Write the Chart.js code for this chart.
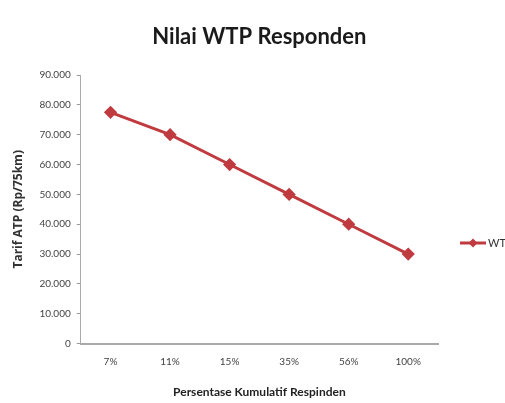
<!DOCTYPE html>
<html>
<head>
<meta charset="utf-8">
<script src="https://cdn.jsdelivr.net/npm/chart.js@4"></script>
<style>
  html, body { margin: 0; padding: 0; background: #fff; overflow: hidden; }
  #wrap { width: 505px; height: 403px; position: relative; }
</style>
</head>
<body>
<div id="wrap"><canvas id="chartWtp"></canvas></div>
<script>
const kategori = ['7%', '11%', '15%', '35%', '56%', '100%']
const nilaiWtp = [77500, 70000, 60000, 50000, 40000, 30000]
const namaSeri = 'WTP'
const judul = 'Nilai WTP Responden'
const merah = '#bf3b40'

// title centred over the plot, legend running off the right edge like the original
const hiasanWtp = {
    id: 'hiasanWtp',
    afterDraw(chart) {
        const ctx = chart.ctx
        const area = chart.chartArea
        ctx.save()
        ctx.fillStyle = '#1a1a1a'
        ctx.font = 'bold 22px Lato, sans-serif'
        ctx.textAlign = 'center'
        ctx.textBaseline = 'middle'
        ctx.fillText(judul, (area.left + area.right) / 2, 37)

        const y = 243
        const x0 = 460
        ctx.strokeStyle = merah
        ctx.lineWidth = 3
        ctx.beginPath()
        ctx.moveTo(x0, y)
        ctx.lineTo(x0 + 26, y)
        ctx.stroke()
        ctx.fillStyle = merah
        ctx.beginPath()
        ctx.moveTo(x0 + 13, y - 4.5)
        ctx.lineTo(x0 + 17.5, y)
        ctx.lineTo(x0 + 13, y + 4.5)
        ctx.lineTo(x0 + 8.5, y)
        ctx.closePath()
        ctx.fill()
        ctx.fillStyle = '#333'
        ctx.font = '11px Lato, sans-serif'
        ctx.textAlign = 'left'
        ctx.fillText(namaSeri, x0 + 28, y)
        ctx.restore()
    }
}

var ctxWtp = document.getElementById('chartWtp').getContext('2d');
var chartWtp = new Chart(ctxWtp, {
    type: 'line',
    data: {
        labels: kategori,
        datasets: [{
            label: namaSeri,
            data: nilaiWtp,
            borderColor: merah,
            backgroundColor: merah,
            borderWidth: 3,
            pointStyle: 'rectRot',
            pointRadius: 4.5,
            pointHoverRadius: 4.5,
            tension: 0
        }]
    },
    options: {
        responsive: true,
        maintainAspectRatio: false,
        animation: false,
        layout: { padding: { left: 11, right: 67, top: 75, bottom: 4 } },
        plugins: {
            legend: { display: false },
            tooltip: { enabled: false },
            title: { display: false }
        },
        scales: {
            x: {
                offset: true,
                grid: { display: false, drawTicks: false },
                border: { color: '#aaa', width: 2 },
                ticks: { color: '#444', font: { family: 'Lato', size: 10 }, padding: 12, maxRotation: 0 },
                title: {
                    display: true,
                    text: 'Persentase Kumulatif Respinden',
                    color: '#222',
                    font: { family: 'Lato', size: 12, weight: 'bold' },
                    padding: { top: 5, bottom: 0 }
                }
            },
            y: {
                min: 0,
                max: 90000,
                grid: { display: true, drawOnChartArea: false, drawTicks: true, tickLength: 4, color: '#999' },
                border: { color: '#aaa', width: 1 },
                ticks: {
                    stepSize: 10000,
                    color: '#444',
                    font: { family: 'Lato', size: 10 },
                    padding: 6,
                    callback: v => v.toLocaleString('de-DE')
                },
                title: {
                    display: true,
                    text: 'Tarif ATP (Rp/75km)',
                    color: '#333',
                    font: { family: 'Open Sans', size: 12, weight: 'bold' },
                    padding: { top: 0, bottom: 8 }
                }
            }
        }
    },
    plugins: [hiasanWtp]
});
</script>
</body>
</html>
